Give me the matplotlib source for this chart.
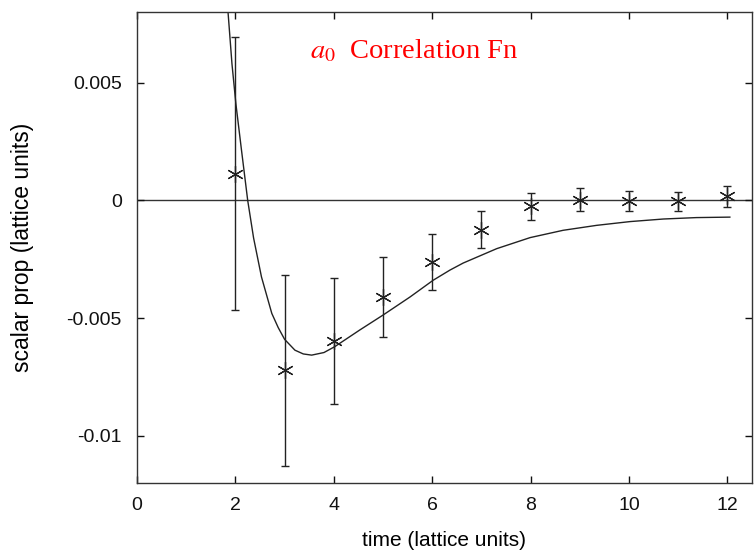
import matplotlib
matplotlib.use("Agg")
import matplotlib.pyplot as plt

# data points
t = [2, 3, 4, 5, 6, 7, 8, 9, 10, 11, 12]
prop = [0.00114, -0.00722, -0.00596, -0.00412, -0.00261, -0.00124, -0.00025, 0.00003, -0.00003, -0.00003, 0.00017]
err = [0.0058, 0.00405, 0.00267, 0.0017, 0.0012, 0.0008, 0.00057, 0.0005, 0.00042, 0.0004, 0.00043]

# fit curve
fit_t = [1.80, 1.85, 1.93, 2.01, 2.12, 2.25, 2.37, 2.53, 2.74, 2.87, 3.00, 3.21, 3.38, 3.55, 3.80,
         4.02, 4.53, 5.00, 5.55, 6.02, 6.36, 6.63, 7.31, 7.99, 8.66, 9.34, 10.02, 10.70, 11.37, 12.05]
fit_y = [0.0095, 0.0080, 0.0058, 0.0041, 0.0022, 0.0, -0.0016, -0.00325, -0.0048, -0.0054, -0.0059,
         -0.00636, -0.00652, -0.00657, -0.00646, -0.00621, -0.00550, -0.00487, -0.00410, -0.00339,
         -0.00296, -0.00266, -0.00205, -0.00158, -0.00127, -0.00106, -0.00090, -0.00079, -0.00073, -0.00071]

xticks = [0, 2, 4, 6, 8, 10, 12]
yticks = [-0.01, -0.005, 0, 0.005]
ytick_labels = ["-0.01", "-0.005", "0", "0.005"]

plt.rcParams['font.family'] = ['Liberation Sans', 'DejaVu Sans']
plt.rcParams['mathtext.fontset'] = 'stix'

fig = plt.figure(figsize=(7.54, 5.52), dpi=100)
ax = fig.add_axes([137/754, 1 - 483/552, (752 - 137)/754, (483 - 12)/552])

ax.axhline(0, color='#333333', lw=1.0, zorder=1)
ax.plot(fit_t, fit_y, color='#222222', lw=1.0, zorder=2)
ax.errorbar(t, prop, yerr=err, fmt='none', ecolor='#222222', elinewidth=1.0,
            capsize=3.2, capthick=1.0, zorder=3)
ax.plot(t, prop, linestyle='none', marker=(6, 2, 0), markersize=12,
        markeredgewidth=0.9, color='#222222', zorder=4)

ax.set_xlim(0, 12.5)
ax.set_ylim(-0.012, 0.008)
ax.set_xticks(xticks)
ax.set_xticklabels([str(v) for v in xticks])
ax.set_yticks(yticks)
ax.set_yticklabels(ytick_labels)
ax.tick_params(direction='in', length=5, width=1, top=True, right=True,
               labelsize=14, colors='#111111')
ax.tick_params(axis='y', pad=11)
ax.tick_params(axis='x', pad=10)
for s in ax.spines.values():
    s.set_linewidth(1.0)
    s.set_color('#333333')

ax.set_xlabel("time (lattice units)", fontsize=15, va='center', ha='center')
ax.xaxis.set_label_coords(0.5, (483 - 540) / 471)
ax.set_ylabel("scalar prop (lattice units)", fontsize=16.5, va='center', ha='center')
ax.yaxis.set_label_coords((23 - 137) / 615, 0.5)

ax.text(3.52, 0.00605, r"$a_0$  Correlation Fn", color='red', fontsize=20.5,
        family='Liberation Serif', va='baseline', ha='left')

fig.savefig("out.png", dpi=100)
